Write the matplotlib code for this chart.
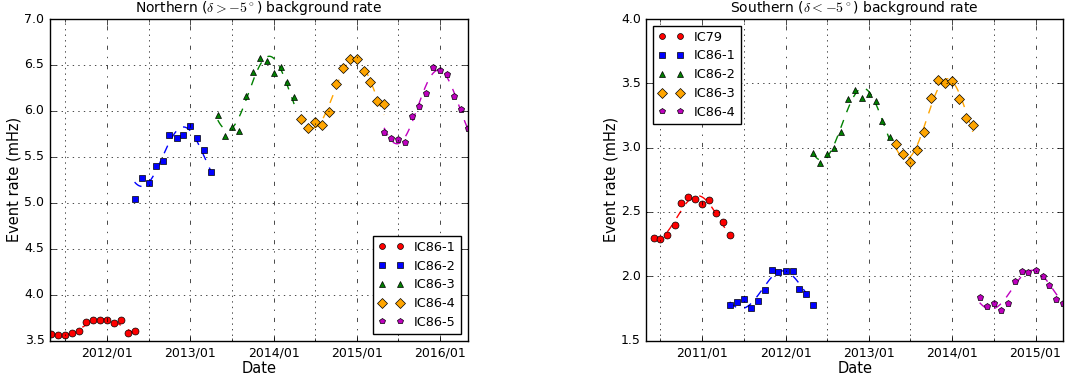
import numpy as np
import pandas as pd
import matplotlib
matplotlib.use('Agg')
import matplotlib.pyplot as plt
import matplotlib.dates as mdates

plt.style.use('classic')

# Northern sky, monthly rates (mHz), one list per season
north_labels = ['IC86-1', 'IC86-2', 'IC86-3', 'IC86-4', 'IC86-5']
north_starts = ['2011-05', '2012-05', '2013-05', '2014-05', '2015-05']
north_ic86_1 = [3.57, 3.56, 3.56, 3.58, 3.60, 3.70, 3.72, 3.72, 3.72, 3.69, 3.72, 3.58, 3.61]
north_ic86_2 = [5.04, 5.27, 5.22, 5.40, 5.45, 5.74, 5.71, 5.74, 5.84, 5.70, 5.58, 5.34]
north_ic86_3 = [5.96, 5.73, 5.82, 5.78, 6.16, 6.42, 6.58, 6.54, 6.41, 6.48, 6.31, 6.15]
north_ic86_4 = [5.91, 5.81, 5.88, 5.85, 5.99, 6.29, 6.47, 6.56, 6.56, 6.44, 6.32, 6.11, 6.07]
north_ic86_5 = [5.77, 5.71, 5.69, 5.66, 5.94, 6.05, 6.20, 6.48, 6.45, 6.40, 6.16, 6.02, 5.81]

# Southern sky
south_labels = ['IC79', 'IC86-1', 'IC86-2', 'IC86-3', 'IC86-4']
south_starts = ['2010-06', '2011-05', '2012-05', '2013-05', '2014-05']
south_ic79 = [2.30, 2.29, 2.32, 2.40, 2.57, 2.62, 2.60, 2.56, 2.59, 2.49, 2.42, 2.32]
south_ic86_1 = [1.78, 1.80, 1.82, 1.75, 1.81, 1.89, 2.05, 2.03, 2.04, 2.04, 1.90, 1.86, 1.78]
south_ic86_2 = [2.96, 2.88, 2.95, 3.00, 3.12, 3.38, 3.45, 3.39, 3.42, 3.36, 3.21, 3.08]
south_ic86_3 = [3.03, 2.95, 2.89, 2.98, 3.12, 3.39, 3.53, 3.50, 3.52, 3.38, 3.23, 3.18]
south_ic86_4 = [1.84, 1.77, 1.79, 1.74, 1.79, 1.96, 2.04, 2.03, 2.05, 2.00, 1.93, 1.82, 1.79]

colors = ['r', 'b', 'g', 'orange', 'm']
markers = ['o', 's', '^', 'D', 'p']
msizes = [5, 5, 4.5, 5.5, 4.5]


def seasonal_fit(dates, vals):
    # least squares sinusoid with a one-year period
    t = (dates - dates[0]).days.values.astype(float)
    w = 2 * np.pi / 365.25
    A = np.column_stack([np.ones_like(t), np.sin(w * t), np.cos(w * t)])
    coef = np.linalg.lstsq(A, np.asarray(vals), rcond=None)[0]
    tt = np.linspace(t[0], t[-1], 200)
    yy = coef[0] + coef[1] * np.sin(w * tt) + coef[2] * np.cos(w * tt)
    return dates[0] + pd.to_timedelta(tt, unit='D'), yy


def draw_panel(ax, labels, starts, series, title, ylim, xlim, legend_loc):
    for i, (lab, st, vals) in enumerate(zip(labels, starts, series)):
        dates = pd.date_range(st, periods=len(vals), freq='MS')
        fx, fy = seasonal_fit(dates, vals)
        ax.plot(fx, fy, '--', color=colors[i], lw=1)
        ax.plot(dates, vals, linestyle='none', marker=markers[i], color=colors[i],
                mec='k', mew=0.5, ms=msizes[i], label=lab)
    ax.set_xlim(pd.Timestamp(xlim[0]), pd.Timestamp(xlim[1]))
    ax.set_ylim(*ylim)
    ax.xaxis.set_major_locator(mdates.YearLocator())
    ax.xaxis.set_minor_locator(mdates.MonthLocator(bymonth=7))
    ax.xaxis.set_major_formatter(mdates.DateFormatter('%Y/%m'))
    ax.grid(True, which='major', axis='x', linestyle='-.', color='k')
    ax.grid(True, which='minor', axis='x', linestyle=':', color='k')
    ax.grid(True, which='major', axis='y', linestyle=':', color='k')
    ax.tick_params(labelsize=9)
    ax.set_xlabel('Date', fontsize=10.5, labelpad=1)
    ax.set_ylabel('Event rate (mHz)', fontsize=10.5, labelpad=2)
    ax.set_title(title, fontsize=10)
    leg = ax.legend(loc=legend_loc, numpoints=2, fontsize=9.3, labelspacing=0.45,
                    markerscale=0.85)
    leg.get_frame().set_linewidth(1)


fig = plt.figure(figsize=(10.65, 3.81), dpi=100, facecolor='w')
ax1 = fig.add_axes([0.047, 0.106, 0.392, 0.844])
ax2 = fig.add_axes([0.607, 0.106, 0.391, 0.844])

draw_panel(ax1, north_labels, north_starts,
           [north_ic86_1, north_ic86_2, north_ic86_3, north_ic86_4, north_ic86_5],
           r'Northern ($\delta > -5^\circ$) background rate', (3.5, 7.0),
           ('2011-04-26', '2016-05-01'), 4)
draw_panel(ax2, south_labels, south_starts,
           [south_ic79, south_ic86_1, south_ic86_2, south_ic86_3, south_ic86_4],
           r'Southern ($\delta < -5^\circ$) background rate', (1.5, 4.0),
           ('2010-05-01', '2015-05-01'), 2)

fig.savefig('out.png', dpi=100, facecolor='w')
